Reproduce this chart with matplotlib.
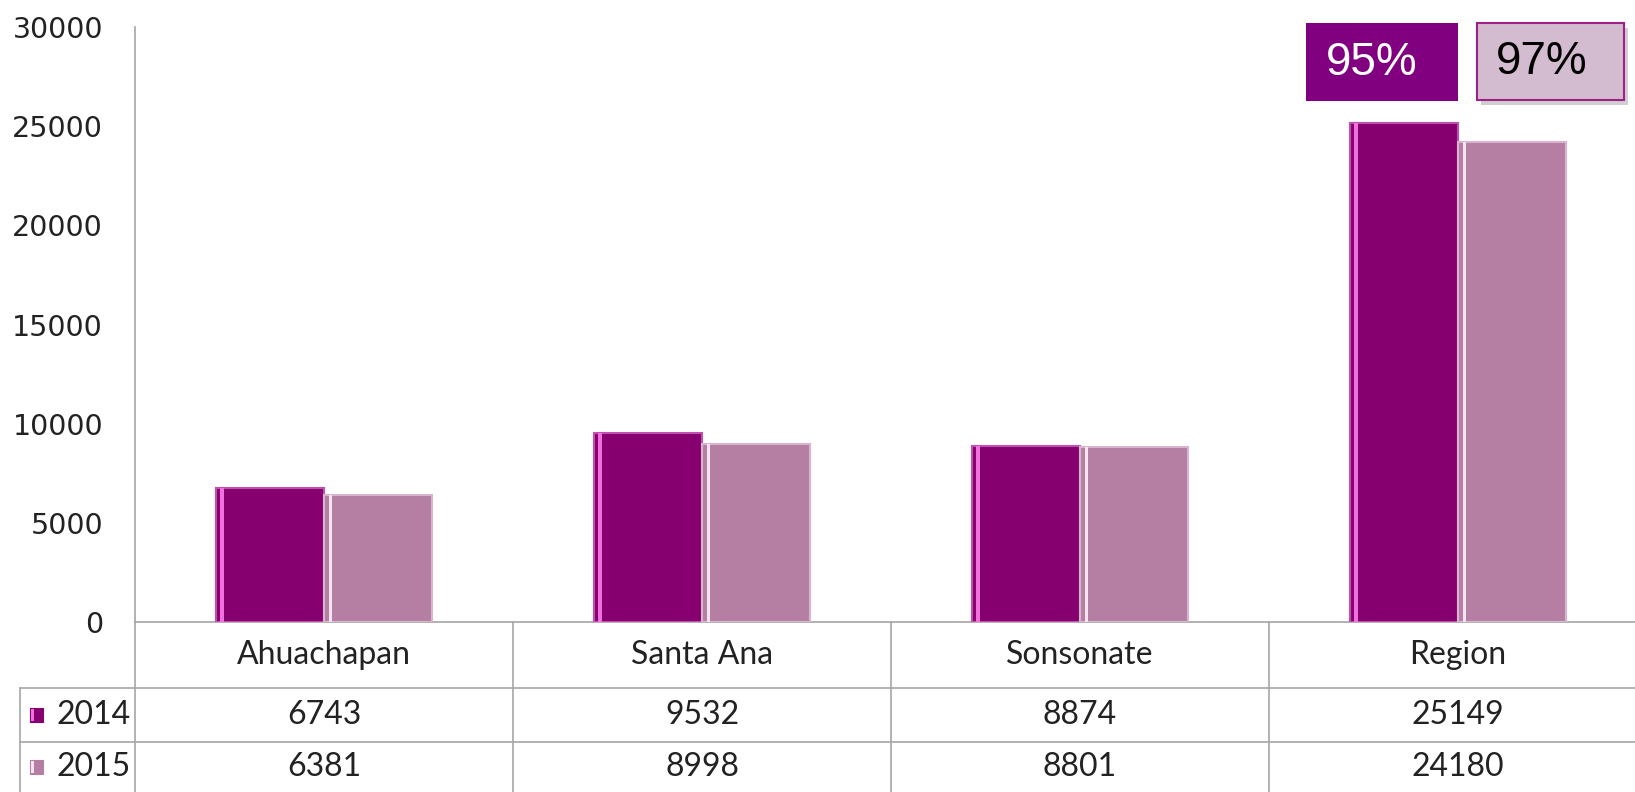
import numpy as np
import matplotlib
matplotlib.use('Agg')
import matplotlib.pyplot as plt
import matplotlib.transforms as mtransforms
from matplotlib.patches import Rectangle

# datos
categorias = ['Ahuachapan', 'Santa Ana', 'Sonsonate', 'Region']
series = ['2014', '2015']
valores_2014 = [6743, 9532, 8874, 25149]
valores_2015 = [6381, 8998, 8801, 24180]
porcentajes = ['95%', '97%']
yticks = [0, 5000, 10000, 15000, 20000, 25000, 30000]

color_2014 = '#87006f'
color_2015 = '#b47fa3'
borde_2014 = '#c050b0'
borde_2015 = '#d8b4cf'
gris = '#a6a6a6'

W, H = 1635, 792
fig = plt.figure(figsize=(W / 100, H / 100), dpi=100)

# ejes principales (en pixeles: x 135..1647, y 27..622)
ax = fig.add_axes([135 / W, (H - 622) / H, (1647 - 135) / W, (622 - 27) / H])
x = np.arange(len(categorias))
bw = 0.286

ax.bar(x - bw / 2, valores_2014, bw, color=color_2014, edgecolor=borde_2014, linewidth=1.5, zorder=3)
ax.bar(x + bw / 2, valores_2015, bw, color=color_2015, edgecolor=borde_2015, linewidth=1.5, zorder=3)
# brillo lateral (efecto bisel)
ax.bar(x - bw + 0.012, valores_2014, 0.01, color='#f070e0', linewidth=0, zorder=4, align='edge')
ax.bar(x + 0.012, valores_2015, 0.01, color='#f4e4f0', linewidth=0, zorder=4, align='edge')

ax.set_xlim(-0.5, 3.5)
ax.set_ylim(0, 30000)
ax.set_yticks(yticks)
ax.set_yticklabels([str(v) for v in yticks], fontsize=20.5, color='#222222', family='DejaVu Sans')
ax.tick_params(axis='y', length=0, pad=23)
ax.set_xticks([])
for s in ['top', 'right']:
    ax.spines[s].set_visible(False)
ax.spines['left'].set_color(gris)
ax.spines['bottom'].set_color(gris)
ax.spines['left'].set_linewidth(1.2)
ax.spines['bottom'].set_linewidth(1.2)

# capa para la tabla y los recuadros (coordenadas en pixeles)
ov = fig.add_axes([0, 0, 1, 1], zorder=5)
ov.set_xlim(0, W)
ov.set_ylim(H, 0)
ov.axis('off')
ov.patch.set_alpha(0)

mix = mtransforms.blended_transform_factory(ax.transData, ov.transData)

# lineas de la tabla
ov.plot([135, 135], [622, H], color=gris, lw=1.2)
ov.plot([20, 20], [688, H], color=gris, lw=1.2)
ov.plot([20, W], [688, 688], color=gris, lw=1.2)
ov.plot([20, W], [742, 742], color=gris, lw=1.2)
for i in range(len(categorias)):
    ov.plot([i + 0.5, i + 0.5], [622, H], color=gris, lw=1.2, transform=mix)

fuente = 'Lato'
fs = 23
for i, cat in enumerate(categorias):
    ov.text(i, 655, cat, ha='center', va='center', fontsize=fs, family=fuente,
            color='#222222', transform=mix)
    ov.text(i, 715, str(valores_2014[i]), ha='center', va='center', fontsize=fs,
            family=fuente, color='#222222', transform=mix)
    ov.text(i, 767, str(valores_2015[i]), ha='center', va='center', fontsize=fs,
            family=fuente, color='#222222', transform=mix)

# leyenda dentro de la tabla
for yc, nombre, col, brillo in [(715, series[0], color_2014, '#f070e0'),
                                 (767, series[1], color_2015, '#f4e4f0')]:
    ov.add_patch(Rectangle((30, yc - 7), 13, 14, facecolor=col, edgecolor=col, lw=0.8))
    ov.add_patch(Rectangle((31, yc - 6), 3, 12, facecolor=brillo, lw=0))
    ov.text(57, yc, nombre, ha='left', va='center', fontsize=fs, family=fuente, color='#222222')

# recuadros de porcentaje
ov.add_patch(Rectangle((1306, 23), 152, 78, facecolor='#800080', edgecolor='none'))
ov.text(1326, 63, porcentajes[0], ha='left', va='center', fontsize=33,
        family='Liberation Sans', color='white')

ov.add_patch(Rectangle((1481, 28), 147, 77, facecolor='#7a7a7a', edgecolor='none', alpha=0.35))
ov.add_patch(Rectangle((1477, 23), 147, 77, facecolor='#d4bcd0', edgecolor='#a0208a', lw=1.5))
ov.text(1496, 62, porcentajes[1], ha='left', va='center', fontsize=33,
        family='Liberation Sans', color='black')

plt.savefig('out.png', dpi=100)
